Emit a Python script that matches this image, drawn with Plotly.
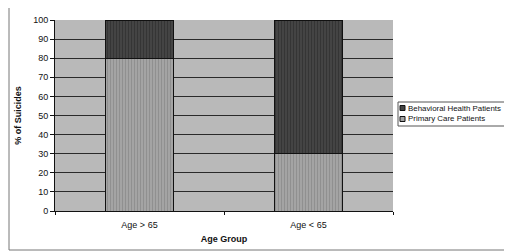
import plotly.graph_objects as go

categories = ["Age > 65", "Age < 65"]
primary_care = [80, 30]
behavioral_health = [20, 70]
series_names = ["Primary Care Patients", "Behavioral Health Patients"]
series_colors = ["#a4a4a4", "#444444"]
y_ticks = list(range(0, 101, 10))

font_family = "Liberation Sans, Arial, sans-serif"

fig = go.Figure()
fig.add_trace(go.Bar(
    x=categories, y=primary_care, name=series_names[0], width=0.4,
    marker=dict(color=series_colors[0], line=dict(color="#111111", width=1),
                pattern=dict(shape="|", fgcolor="#7c7c7c", size=3, solidity=0.35)),
    showlegend=False,
))
fig.add_trace(go.Bar(
    x=categories, y=behavioral_health, name=series_names[1], width=0.4,
    marker=dict(color=series_colors[1], line=dict(color="#111111", width=1),
                pattern=dict(shape="|", fgcolor="#262626", size=3, solidity=0.35)),
    showlegend=False,
))

# The page body has an 8px margin, so the figure starts at (8, 8) in the window.
# Plot area in window pixels: x 55..393, y 20..211 (width 338, height 191)
def px_x(px):
    return (px - 55) / 338.0

def px_y(py):
    return (211 - py) / 191.0

shapes = [
    dict(type="rect", xref="paper", yref="paper",
         x0=px_x(9), x1=px_x(540), y0=px_y(250), y1=px_y(5),
         line=dict(color="#777777", width=1), layer="below"),
    # legend box
    dict(type="rect", xref="paper", yref="paper",
         x0=px_x(398), x1=px_x(540), y0=px_y(126), y1=px_y(102),
         line=dict(color="#555555", width=1), fillcolor="white"),
]
annotations = []
legend_rows = [(series_names[1], series_colors[1], 108), (series_names[0], series_colors[0], 119)]
for name, color, cy in legend_rows:
    shapes.append(dict(type="rect", xref="paper", yref="paper",
                       x0=px_x(400), x1=px_x(405), y0=px_y(cy + 2.5), y1=px_y(cy - 2.5),
                       line=dict(color="#111111", width=1), fillcolor=color))
    annotations.append(dict(xref="paper", yref="paper", x=px_x(406), y=px_y(cy),
                            xanchor="left", yanchor="middle", showarrow=False,
                            text=name, font=dict(size=7.9, family=font_family, color="#111111")))

fig.update_layout(
    barmode="stack",
    width=504, height=244,
    margin=dict(l=47, r=119, t=12, b=41, autoexpand=False),
    paper_bgcolor="white",
    plot_bgcolor="#b9b9b9",
    font=dict(family=font_family, size=9, color="#111111"),
    showlegend=False,
    xaxis=dict(
        title=dict(text="<b>Age Group</b>", font=dict(size=9), standoff=6),
        showline=True, linecolor="#111111", linewidth=1,
        ticks="outside", ticklen=3, tickcolor="#111111",
        tickson="boundaries",
        ticklabelstandoff=5,
        showgrid=False,
    ),
    yaxis=dict(
        title=dict(text="<b>% of Suicides</b>", font=dict(size=9), standoff=10),
        range=[0, 100],
        tickvals=y_ticks,
        showline=True, linecolor="#111111", linewidth=1,
        ticks="outside", ticklen=4, tickcolor="#111111",
        showgrid=True, gridcolor="#2a2a2a", gridwidth=1,
        zeroline=False,
    ),
    shapes=shapes,
    annotations=annotations,
)

fig.write_html("out.html")
